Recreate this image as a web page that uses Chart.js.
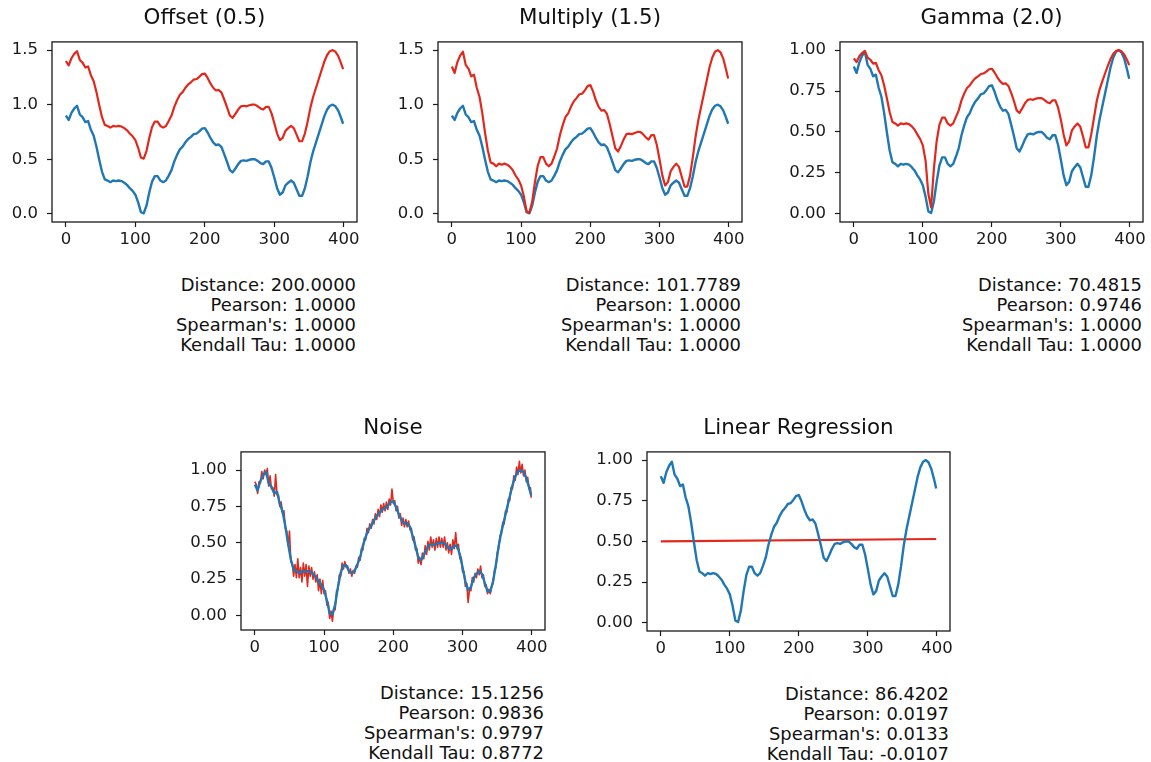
<!DOCTYPE html>
<html>
<head>
<meta charset="utf-8">
<script src="https://cdn.jsdelivr.net/npm/chart.js"></script>
<style>
body{margin:0;background:#fff;width:1151px;height:762px;position:relative;overflow:hidden;font-family:"DejaVu Sans",sans-serif;color:#111}
canvas{position:absolute}
.ttl{position:absolute;font-size:21.4px;line-height:24px;white-space:nowrap;transform:translateX(-50%)}
.stats{position:absolute;width:300px;font-size:17.9px;line-height:20px;text-align:right;white-space:pre}
</style>
</head>
<body>
<script>
// x ticks shared by every panel
const xTicks=[0,100,200,300,400];

// original signal (blue), sampled every 4 steps, last point at 399
const blue=[0.90,0.86,0.925,0.965,0.99,0.91,0.885,0.84,0.85,0.77,0.715,0.615,0.495,0.385,0.315,0.305,0.29,0.305,0.30,0.305,
 0.30,0.285,0.265,0.235,0.21,0.175,0.105,0.015,0.005,0.075,0.195,0.295,0.345,0.345,0.305,0.29,0.305,0.35,0.40,0.48,
 0.54,0.59,0.615,0.655,0.685,0.705,0.73,0.735,0.755,0.78,0.785,0.745,0.695,0.655,0.63,0.635,0.61,0.545,0.475,0.40,
 0.38,0.415,0.455,0.485,0.49,0.485,0.495,0.50,0.50,0.485,0.465,0.455,0.48,0.48,0.42,0.33,0.235,0.175,0.195,0.26,
 0.285,0.305,0.285,0.225,0.165,0.165,0.235,0.345,0.475,0.575,0.655,0.735,0.815,0.895,0.955,0.99,1.0,0.985,0.945,0.88,0.825];

// transformed signals (red), same sampling as blue
const redOffset=[1.40,1.36,1.425,1.465,1.49,1.41,1.385,1.34,1.35,1.27,1.215,1.115,0.995,0.885,0.815,0.805,0.79,0.805,0.80,0.805,
 0.80,0.785,0.765,0.735,0.71,0.675,0.605,0.515,0.505,0.575,0.695,0.795,0.845,0.845,0.805,0.79,0.805,0.85,0.90,0.98,
 1.04,1.09,1.115,1.155,1.185,1.205,1.23,1.235,1.255,1.28,1.285,1.245,1.195,1.155,1.13,1.135,1.11,1.045,0.975,0.90,
 0.88,0.915,0.955,0.985,0.99,0.985,0.995,1.0,1.0,0.985,0.965,0.955,0.98,0.98,0.92,0.83,0.735,0.675,0.695,0.76,
 0.785,0.805,0.785,0.725,0.665,0.665,0.735,0.845,0.975,1.075,1.155,1.235,1.315,1.395,1.455,1.49,1.5,1.485,1.445,1.38,1.325];

const redMultiply=[1.35,1.29,1.39,1.45,1.485,1.365,1.33,1.26,1.275,1.155,1.07,0.92,0.74,0.58,0.47,0.46,0.435,0.46,0.45,0.46,
 0.45,0.43,0.40,0.35,0.315,0.26,0.16,0.02,0.01,0.11,0.29,0.44,0.52,0.52,0.46,0.435,0.46,0.525,0.60,0.72,
 0.81,0.885,0.92,0.98,1.03,1.06,1.095,1.10,1.13,1.17,1.18,1.12,1.04,0.98,0.945,0.95,0.915,0.82,0.71,0.60,
 0.57,0.62,0.68,0.73,0.735,0.73,0.74,0.75,0.75,0.73,0.70,0.68,0.72,0.72,0.63,0.495,0.35,0.26,0.29,0.39,
 0.43,0.46,0.43,0.34,0.25,0.25,0.35,0.52,0.71,0.86,0.98,1.10,1.22,1.34,1.43,1.485,1.50,1.48,1.42,1.32,1.24];

const redGamma=[0.949,0.927,0.962,0.982,0.995,0.954,0.941,0.917,0.922,0.877,0.846,0.784,0.704,0.620,0.561,0.552,0.539,0.552,0.548,0.552,
 0.548,0.534,0.515,0.485,0.458,0.418,0.324,0.122,0.04,0.274,0.442,0.543,0.587,0.587,0.552,0.539,0.552,0.592,0.632,0.693,
 0.735,0.768,0.784,0.809,0.828,0.840,0.854,0.857,0.869,0.883,0.886,0.863,0.834,0.809,0.794,0.797,0.781,0.738,0.689,0.632,
 0.616,0.644,0.675,0.696,0.700,0.696,0.704,0.707,0.707,0.696,0.682,0.675,0.693,0.693,0.648,0.574,0.485,0.418,0.442,0.510,
 0.534,0.552,0.534,0.474,0.406,0.406,0.485,0.587,0.689,0.758,0.809,0.857,0.903,0.946,0.977,0.995,1.0,0.992,0.972,0.938,0.908];

// noisy copy (red), sampled every 2 steps, last point at 399
const redNoise=[0.92,0.90,0.84,0.92,0.91,0.99,0.94,1.00,0.97,1.01,0.89,0.96,0.87,0.88,0.82,0.97,0.83,0.83,0.75,0.78,
 0.70,0.72,0.60,0.58,0.48,0.58,0.37,0.36,0.27,0.35,0.26,0.39,0.26,0.33,0.23,0.36,0.27,0.35,0.20,0.34,
 0.27,0.33,0.25,0.30,0.23,0.28,0.17,0.25,0.15,0.24,0.15,0.17,0.07,0.09,-0.02,0.03,-0.04,0.05,0.04,0.17,
 0.18,0.28,0.27,0.36,0.32,0.37,0.33,0.34,0.29,0.32,0.27,0.31,0.29,0.34,0.33,0.40,0.38,0.46,0.45,0.53,
 0.52,0.60,0.57,0.63,0.60,0.66,0.63,0.70,0.66,0.73,0.68,0.76,0.71,0.77,0.72,0.78,0.73,0.80,0.76,0.87,
 0.77,0.79,0.72,0.75,0.67,0.70,0.62,0.67,0.61,0.66,0.61,0.65,0.59,0.60,0.52,0.54,0.45,0.46,0.36,0.40,
 0.35,0.43,0.39,0.48,0.42,0.51,0.45,0.54,0.47,0.52,0.45,0.53,0.47,0.54,0.47,0.53,0.47,0.54,0.45,0.50,
 0.43,0.49,0.42,0.52,0.46,0.57,0.46,0.49,0.39,0.40,0.30,0.30,0.20,0.22,0.09,0.18,0.17,0.26,0.23,0.29,
 0.26,0.32,0.28,0.34,0.26,0.28,0.20,0.21,0.15,0.18,0.15,0.20,0.22,0.31,0.33,0.43,0.46,0.55,0.56,0.64,
 0.63,0.72,0.71,0.80,0.79,0.88,0.87,0.96,0.93,1.02,0.97,1.06,0.98,1.04,0.96,1.00,0.92,0.95,0.87,0.88,0.81];

// regression fit line
const lrX=[0,399];
const lrY=[0.50,0.515];

const statsOffset=['Distance: 200.0000','Pearson: 1.0000',"Spearman's: 1.0000",'Kendall Tau: 1.0000'];
const statsMultiply=['Distance: 101.7789','Pearson: 1.0000',"Spearman's: 1.0000",'Kendall Tau: 1.0000'];
const statsGamma=['Distance: 70.4815','Pearson: 0.9746',"Spearman's: 1.0000",'Kendall Tau: 1.0000'];
const statsNoise=['Distance: 15.1256','Pearson: 0.9836',"Spearman's: 0.9797",'Kendall Tau: 0.8772'];
const statsLR=['Distance: 86.4202','Pearson: 0.0197',"Spearman's: 0.0133",'Kendall Tau: -0.0107'];

const yTicksWide=[0,0.5,1,1.5];
const yTicksUnit=[0,0.25,0.5,0.75,1];

const BLUE='#1f77b4', RED='#e2281c', INK='#1a1a1a';
const xPos=blue.map((_,i)=>Math.min(i*4,399));
const xPosNoise=redNoise.map((_,i)=>Math.min(i*2,399));
const pts=(xs,ys)=>ys.map((v,i)=>({x:xs[i],y:v}));

const panels=[
 {title:'Offset (0.5)',red:pts(xPos,redOffset),box:[52,37,357,222],y:[-0.075,1.575],ticks:yTicksWide,dec:1,redTop:true,stats:statsOffset},
 {title:'Multiply (1.5)',red:pts(xPos,redMultiply),box:[438,37,742,222],y:[-0.075,1.575],ticks:yTicksWide,dec:1,redTop:true,stats:statsMultiply},
 {title:'Gamma (2.0)',red:pts(xPos,redGamma),box:[840,37,1143,222],y:[-0.05,1.05],ticks:yTicksUnit,dec:2,redTop:true,stats:statsGamma},
 {title:'Noise',red:pts(xPosNoise,redNoise),box:[241,447,545,630],y:[-0.1,1.125],ticks:yTicksUnit,dec:2,redTop:false,stats:statsNoise,thin:true},
 {title:'Linear Regression',red:pts(lrX,lrY),box:[647,447,950,631],y:[-0.05,1.05],ticks:yTicksUnit,dec:2,redTop:false,stats:statsLR}
];

const frame={id:'frame',afterDatasetsDraw(c){
 const a=c.chartArea,ctx=c.ctx;
 ctx.save();ctx.strokeStyle=INK;ctx.lineWidth=1.3;
 ctx.strokeRect(a.left,a.top,a.right-a.left,a.bottom-a.top);
 ctx.restore();
}};

const YW=62,XH=32,PT=14,PR=26;
panels.forEach(p=>{
 const [L,T,R,B]=p.box;
 const cv=document.createElement('canvas');
 cv.width=YW+(R-L)+PR;cv.height=PT+(B-T)+XH;
 cv.style.left=(L-YW)+'px';cv.style.top=(T-PT)+'px';
 document.body.appendChild(cv);

 const t=document.createElement('div');
 t.className='ttl';t.textContent=p.title;
 t.style.left=((L+R)/2)+'px';t.style.top=(T-32)+'px';
 document.body.appendChild(t);

 const s=document.createElement('div');
 s.className='stats';s.textContent=p.stats.join('\n');
 s.style.left=(R-1-300)+'px';s.style.top=(B+53)+'px';
 document.body.appendChild(s);

 const blueSet={data:pts(xPos,blue),borderColor:BLUE,borderWidth:2.4,pointRadius:0,tension:0,borderJoinStyle:'round'};
 const redSet={data:p.red,borderColor:RED,borderWidth:p.thin?1.6:2.2,pointRadius:0,tension:0,borderJoinStyle:'round'};
 const tickFont={family:'"DejaVu Sans"',size:16.5};
 new Chart(cv.getContext('2d'),{
  type:'line',
  data:{datasets:p.redTop?[redSet,blueSet]:[blueSet,redSet]},
  options:{
   responsive:false,animation:false,devicePixelRatio:1,
   layout:{padding:{top:PT,right:PR,left:0,bottom:0}},
   plugins:{legend:{display:false},tooltip:{enabled:false}},
   scales:{
    x:{type:'linear',min:-20,max:419,
     afterBuildTicks(sc){sc.ticks=xTicks.map(v=>({value:v}));},
     afterFit(sc){sc.height=XH;},
     ticks:{color:INK,font:tickFont,padding:3,maxRotation:0,autoSkip:false,callback:v=>String(v)},
     grid:{drawOnChartArea:false,drawTicks:true,tickLength:5,color:INK,tickWidth:1.2},
     border:{display:false}},
    y:{type:'linear',min:p.y[0],max:p.y[1],
     afterBuildTicks(sc){sc.ticks=p.ticks.map(v=>({value:v}));},
     afterFit(sc){sc.width=YW;},
     ticks:{color:INK,font:tickFont,padding:9,autoSkip:false,callback:v=>v.toFixed(p.dec)},
     grid:{drawOnChartArea:false,drawTicks:true,tickLength:5,color:INK,tickWidth:1.2},
     border:{display:false}}
   }
  },
  plugins:[frame]
 });
});
</script>
</body>
</html>
